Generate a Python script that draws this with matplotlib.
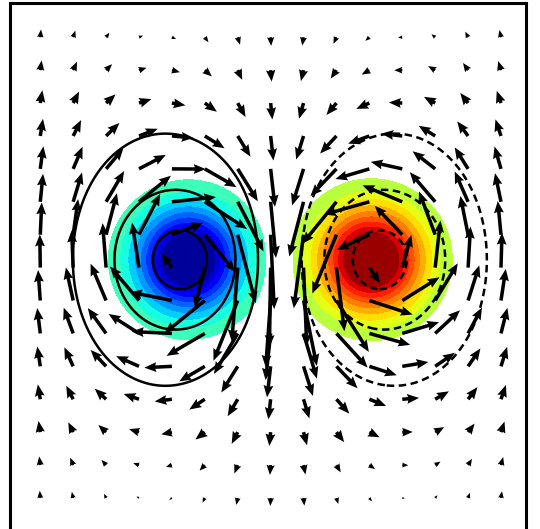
import numpy as np
import matplotlib
matplotlib.use("Agg")
import matplotlib.pyplot as plt

# Gaussian vortex pair in a doubly periodic box
VORT_X = [-1.25, 1.53]
VORT_Y = [0.12, 0.12]
VORT_SIGN = [-1.0, 1.0]
VORT_PEAK = 1.2
VORT_RADIUS = 0.78

# box: lower-left corner and periods
BOX_X0, BOX_LX = -3.96, 7.84
BOX_Y0, BOX_LY = -4.10, 8.12
NGRID = 512

# filled vorticity bands (the band around zero stays white)
OMEGA_LEVELS = [-1.0, -0.9, -0.8, -0.7, -0.6, -0.5, -0.4, -0.3, -0.2, -0.1,
                0.1, 0.2, 0.3, 0.4, 0.5, 0.6, 0.7, 0.8, 0.9, 1.0]

# streamfunction contours, as fractions of max |psi|
PSI_LEVELS = [0.3, 0.6, 0.9]

# quiver sample points
ARROW_X = [-3.5, -3.0, -2.5, -2.0, -1.5, -1.0, -0.5, 0.0,
           0.5, 1.0, 1.5, 2.0, 2.5, 3.0, 3.5]
ARROW_Y = [-3.5, -3.0, -2.5, -2.0, -1.5, -1.0, -0.5, 0.0,
           0.5, 1.0, 1.5, 2.0, 2.5, 3.0, 3.5]

# ---- vorticity on the periodic grid ----
dx = BOX_LX / NGRID
dy = BOX_LY / NGRID
xg = BOX_X0 + dx * np.arange(NGRID)
yg = BOX_Y0 + dy * np.arange(NGRID)
X, Y = np.meshgrid(xg, yg)

W = np.zeros_like(X)
for xc, yc, s in zip(VORT_X, VORT_Y, VORT_SIGN):
    for ix in (-1, 0, 1):
        for iy in (-1, 0, 1):
            r2 = (X - xc - ix * BOX_LX) ** 2 + (Y - yc - iy * BOX_LY) ** 2
            W += s * VORT_PEAK * np.exp(-r2 / VORT_RADIUS ** 2)
W -= W.mean()

# ---- lap(psi) = omega, u = -psi_y, v = psi_x ----
kx = 2 * np.pi * np.fft.fftfreq(NGRID, d=dx)
ky = 2 * np.pi * np.fft.fftfreq(NGRID, d=dy)
KX, KY = np.meshgrid(kx, ky)
K2 = KX ** 2 + KY ** 2
K2[0, 0] = 1.0
w_hat = np.fft.fft2(W)
psi_hat = -w_hat / K2
psi_hat[0, 0] = 0.0
PSI = np.real(np.fft.ifft2(psi_hat))
U = np.real(np.fft.ifft2(-1j * KY * psi_hat))
V = np.real(np.fft.ifft2(1j * KX * psi_hat))
PSI = PSI / np.abs(PSI).max()

# close the periodic grid so the fields reach the right/top edges
def wrap(a):
    return np.pad(a, ((0, 1), (0, 1)), mode="wrap")

Xc = np.pad(X, ((0, 1), (0, 1)), mode="edge")
Yc = np.pad(Y, ((0, 1), (0, 1)), mode="edge")
Xc[:, -1] = BOX_X0 + BOX_LX
Yc[-1, :] = BOX_Y0 + BOX_LY
Wc = np.clip(wrap(W), -0.999, 0.999)
PSIc = wrap(PSI)

# velocities at the arrow points (nearest grid node)
QX, QY = np.meshgrid(ARROW_X, ARROW_Y)
ii = np.rint((QX - BOX_X0) / dx).astype(int) % NGRID
jj = np.rint((QY - BOX_Y0) / dy).astype(int) % NGRID
QU = U[jj, ii]
QV = V[jj, ii]

cmap = plt.get_cmap("jet")
band_colors = []
for lo, hi in zip(OMEGA_LEVELS[:-1], OMEGA_LEVELS[1:]):
    if lo < 0 < hi:
        band_colors.append("white")
    else:
        band_colors.append(cmap((0.5 * (lo + hi) + 1) / 2))

fig = plt.figure(figsize=(5.40, 5.29), dpi=100)
ax = fig.add_axes([10 / 540, -0.016, 516 / 540, 1.0103])

ax.contourf(Xc, Yc, Wc, levels=OMEGA_LEVELS, colors=band_colors)
ax.contour(Xc, Yc, PSIc, levels=PSI_LEVELS, colors="k", linewidths=1.8,
           linestyles="solid")
ax.contour(Xc, Yc, PSIc, levels=[-p for p in PSI_LEVELS[::-1]], colors="k",
           linewidths=1.8, linestyles=[(0, (3.0, 1.8))])
ax.quiver(QX, QY, QU, QV, angles="xy", scale_units="xy", scale=0.37,
          width=0.0068, headwidth=2.8, headlength=3.4, headaxislength=3.1,
          minlength=0.5, color="k", zorder=5)

ax.set_xlim(BOX_X0, BOX_X0 + BOX_LX)
ax.set_ylim(BOX_Y0, BOX_Y0 + BOX_LY)
ax.set_xticks([])
ax.set_yticks([])
for sp in ax.spines.values():
    sp.set_linewidth(2.2)

fig.savefig("out.png", dpi=100)
